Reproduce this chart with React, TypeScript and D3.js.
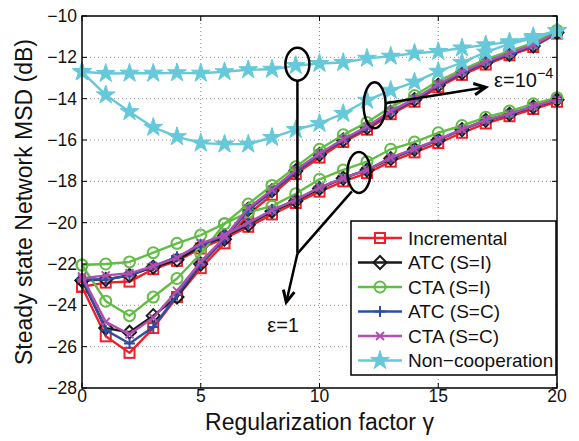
import * as d3 from 'd3';

// regularization factor values on the x axis
const gamma = [0, 1, 2, 3, 4, 5, 6, 7, 8, 9, 10, 11, 12, 13, 14, 15, 16, 17, 18, 19, 20];

// epsilon = 1e-4 curves (dip on the left, top group on the right)
const incSmall = [-23.1, -25.5, -26.3, -25.1, -23.6, -22.2, -21.0, -19.6, -18.65, -17.65, -16.85, -16.1, -15.5, -14.75, -14.15, -13.45, -12.85, -12.35, -11.9, -11.5, -10.85];
const atcISmall = [-22.8, -25.1, -25.3, -24.5, -23.6, -22.0, -20.8, -19.35, -18.45, -17.5, -16.7, -16.0, -15.4, -14.65, -14.05, -13.35, -12.75, -12.25, -11.85, -11.45, -10.8];
const ctaISmall = [-22.05, -23.8, -24.5, -23.6, -22.7, -21.5, -20.05, -19.1, -18.2, -17.3, -16.45, -15.75, -15.15, -14.4, -13.85, -13.15, -12.6, -12.1, -11.7, -11.3, -10.7];
const atcCSmall = [-22.7, -25.2, -25.85, -25.05, -23.5, -22.0, -20.8, -19.4, -18.5, -17.55, -16.7, -16.0, -15.4, -14.65, -14.05, -13.35, -12.75, -12.25, -11.85, -11.45, -10.8];
const ctaCSmall = [-22.6, -24.8, -25.4, -24.6, -23.3, -21.9, -20.7, -19.3, -18.4, -17.45, -16.65, -15.95, -15.35, -14.6, -14.0, -13.3, -12.7, -12.2, -11.8, -11.4, -10.8];
const ncSmall = [-12.7, -13.82, -14.63, -15.39, -15.84, -16.15, -16.2, -16.2, -15.88, -15.5, -15.2, -14.72, -14.08, -13.6, -13.2, -12.68, -12.25, -11.75, -11.35, -11.08, -10.72];

// epsilon = 1 curves
const incLarge = [-23.1, -22.9, -22.85, -22.25, -21.85, -21.25, -20.75, -20.2, -19.6, -19.05, -18.5, -18.0, -17.6, -17.05, -16.6, -16.15, -15.65, -15.2, -14.85, -14.5, -14.15];
const atcILarge = [-22.8, -22.75, -22.55, -22.15, -21.8, -21.15, -20.65, -20.1, -19.45, -18.95, -18.35, -17.85, -17.45, -16.9, -16.45, -16.0, -15.5, -15.05, -14.75, -14.4, -14.05];
const ctaILarge = [-22.05, -22.0, -21.9, -21.45, -21.0, -20.6, -20.05, -19.5, -19.2, -18.6, -17.9, -17.45, -17.05, -16.45, -16.1, -15.65, -15.3, -14.9, -14.6, -14.25, -13.95];
const atcCLarge = [-22.75, -22.75, -22.55, -22.1, -21.65, -21.1, -20.6, -20.05, -19.4, -18.9, -18.3, -17.85, -17.45, -16.88, -16.45, -16.0, -15.5, -15.05, -14.75, -14.4, -14.05];
const ctaCLarge = [-22.7, -22.55, -22.45, -22.1, -21.7, -21.0, -20.6, -20.0, -19.4, -18.9, -18.3, -17.85, -17.45, -16.85, -16.42, -15.97, -15.48, -15.03, -14.72, -14.37, -14.03];
const ncLarge = [-12.7, -12.78, -12.77, -12.77, -12.75, -12.77, -12.7, -12.6, -12.58, -12.4, -12.3, -12.25, -12.05, -11.95, -11.8, -11.72, -11.55, -11.4, -11.25, -11.0, -10.72];

const xTicks = [0, 5, 10, 15, 20];
const yTicks = [-28, -26, -24, -22, -20, -18, -16, -14, -12, -10];

const seriesNames = ['Incremental', 'ATC (S=I)', 'CTA (S=I)', 'ATC (S=C)', 'CTA (S=C)', 'Non\u2212cooperation'];
const seriesColors = ['#ee2028', '#1a1a1a', '#62bd45', '#2f4f9e', '#b04fb0', '#66c9da'];
const seriesMarkers = ['square', 'diamond', 'circle', 'plus', 'cross', 'star'];
const seriesSmall = [incSmall, atcISmall, ctaISmall, atcCSmall, ctaCSmall, ncSmall];
const seriesLarge = [incLarge, atcILarge, ctaILarge, atcCLarge, ctaCLarge, ncLarge];

// annotation ellipses (data coordinates)
const ellipseEps1Top = { x: 9.07, y: -12.33 };
const ellipseEpsSmall = { x: 12.32, y: -14.32 };
const ellipseEps1Low = { x: 11.66, y: -17.57 };

const W = 579;
const H = 441;
const margin = { top: 16, right: 22, bottom: 53, left: 82 };
const font = 'Liberation Sans, Arial, Helvetica, sans-serif';

function Marker({ type, cx, cy, color }: { type: string; cx: number; cy: number; color: string }) {
  const sw = 2;
  if (type === 'square') {
    return <rect x={cx - 5} y={cy - 5} width={10} height={10} fill="none" stroke={color} strokeWidth={sw} />;
  }
  if (type === 'diamond') {
    const r = 6.5;
    return <path d={`M${cx},${cy - r}L${cx + r},${cy}L${cx},${cy + r}L${cx - r},${cy}Z`} fill="none" stroke={color} strokeWidth={sw} />;
  }
  if (type === 'circle') {
    return <circle cx={cx} cy={cy} r={5.5} fill="none" stroke={color} strokeWidth={sw} />;
  }
  if (type === 'plus') {
    const r = 5.5;
    return <path d={`M${cx - r},${cy}L${cx + r},${cy}M${cx},${cy - r}L${cx},${cy + r}`} stroke={color} strokeWidth={sw} />;
  }
  if (type === 'cross') {
    const r = 4;
    return <path d={`M${cx - r},${cy - r}L${cx + r},${cy + r}M${cx - r},${cy + r}L${cx + r},${cy - r}`} stroke={color} strokeWidth={sw} />;
  }
  const star = d3.symbol(d3.symbolStar, 110)();
  return <path d={star ?? ''} transform={`translate(${cx},${cy})`} fill={color} stroke={color} strokeWidth={1} />;
}

function arrowHead(x1: number, y1: number, x2: number, y2: number) {
  const a = Math.atan2(y2 - y1, x2 - x1);
  const len = 13;
  const spread = 0.45;
  const p1 = [x2 - len * Math.cos(a - spread), y2 - len * Math.sin(a - spread)];
  const p2 = [x2 - len * Math.cos(a + spread), y2 - len * Math.sin(a + spread)];
  return `M${p1[0]},${p1[1]}L${x2},${y2}L${p2[0]},${p2[1]}`;
}

export default function App() {
  const x = d3.scaleLinear().domain([0, 20]).range([margin.left, W - margin.right]);
  const y = d3.scaleLinear().domain([-28, -10]).range([H - margin.bottom, margin.top]);
  const x0 = x(0), x1 = x(20), y0 = y(-28), y1 = y(-10);

  const line = d3.line<number>()
    .x((_, i) => x(gamma[i]))
    .y((d) => y(d));

  const fmt = d3.format('d');

  const curves: { values: number[]; k: number }[] = [];
  seriesSmall.forEach((vals, k) => {
    curves.push({ values: vals, k });
    curves.push({ values: seriesLarge[k], k });
  });

  // annotation geometry
  const e1 = { cx: x(ellipseEps1Top.x), cy: y(ellipseEps1Top.y), rx: 12, ry: 16.5 };
  const e2 = { cx: x(ellipseEpsSmall.x), cy: y(ellipseEpsSmall.y), rx: 11, ry: 23 };
  const e3 = { cx: x(ellipseEps1Low.x), cy: y(ellipseEps1Low.y), rx: 11.5, ry: 20.5 };
  const joint = { x: e1.cx, y: y(-21.5) };
  const tip1 = { x: x(8.6), y: y(-23.85) };
  const e3Foot = { x: e3.cx - 7, y: e3.cy + 19 };
  const e2Start = { x: e2.cx + 11, y: e2.cy - 2 };
  const tip2 = { x: x(17.0), y: y(-13.45) };

  const legend = { x: 351, y: 221, w: 205, h: 154, row: 24.5 };

  return (
    <svg width={W} height={H} style={{ position: 'absolute', left: 0, top: 0, background: '#fff' }} fontFamily={font}>
      {/* grid */}
      <g stroke="#8a8a8a" strokeWidth={1} strokeDasharray="1 3">
        {xTicks.slice(1, -1).map((t) => (
          <line key={'gx' + t} x1={x(t)} x2={x(t)} y1={y0} y2={y1} />
        ))}
        {yTicks.slice(1, -1).map((t) => (
          <line key={'gy' + t} x1={x0} x2={x1} y1={y(t)} y2={y(t)} />
        ))}
      </g>

      {/* data */}
      {curves.map((c, i) => (
        <g key={'c' + i}>
          <path d={line(c.values) ?? ''} fill="none" stroke={seriesColors[c.k]} strokeWidth={2.4} strokeLinejoin="round" />
          {c.values.map((v, j) => (
            <Marker key={j} type={seriesMarkers[c.k]} cx={x(gamma[j])} cy={y(v)} color={seriesColors[c.k]} />
          ))}
        </g>
      ))}

      {/* annotations */}
      <g fill="none" stroke="#000" strokeWidth={2.5}>
        <ellipse cx={e1.cx} cy={e1.cy} rx={e1.rx} ry={e1.ry} />
        <ellipse cx={e2.cx} cy={e2.cy} rx={e2.rx} ry={e2.ry} />
        <ellipse cx={e3.cx} cy={e3.cy} rx={e3.rx} ry={e3.ry} />
        <line x1={e1.cx} y1={e1.cy + e1.ry} x2={joint.x} y2={joint.y} />
        <line x1={joint.x} y1={joint.y} x2={e3Foot.x} y2={e3Foot.y} />
        <line x1={joint.x} y1={joint.y} x2={tip1.x} y2={tip1.y} />
        <path d={arrowHead(joint.x, joint.y, tip1.x, tip1.y)} strokeWidth={3} />
        <line x1={e2Start.x} y1={e2Start.y} x2={tip2.x} y2={tip2.y} />
        <path d={arrowHead(e2Start.x, e2Start.y, tip2.x, tip2.y)} strokeWidth={3} />
      </g>
      <text x={x(7.8)} y={y(-25.3)} fontSize={20} fill="#111">{'\u03b5=1'}</text>
      <text x={x(17.35)} y={y(-13.45)} fontSize={20} fill="#111">
        {'\u03b5=10'}
        <tspan dy={-9} fontSize={14.5}>{'\u22124'}</tspan>
      </text>

      {/* axes box and ticks */}
      <rect x={x0} y={y1} width={x1 - x0} height={y0 - y1} fill="none" stroke="#000" strokeWidth={1.5} />
      <g stroke="#000" strokeWidth={1}>
        {xTicks.map((t) => (
          <g key={'tx' + t}>
            <line x1={x(t)} x2={x(t)} y1={y0} y2={y0 - 5} />
            <line x1={x(t)} x2={x(t)} y1={y1} y2={y1 + 5} />
          </g>
        ))}
        {yTicks.map((t) => (
          <g key={'ty' + t}>
            <line x1={x0} x2={x0 + 5} y1={y(t)} y2={y(t)} />
            <line x1={x1} x2={x1 - 5} y1={y(t)} y2={y(t)} />
          </g>
        ))}
      </g>
      <g fontSize={17.5} fill="#111">
        {xTicks.map((t) => (
          <text key={'lx' + t} x={x(t)} y={y0 + 14} textAnchor="middle">{fmt(t)}</text>
        ))}
        {yTicks.map((t) => (
          <text key={'ly' + t} x={x0 - 5} y={y(t) + 6} textAnchor="end">{fmt(t)}</text>
        ))}
      </g>
      <text x={(x0 + x1) / 2} y={430} textAnchor="middle" fontSize={23} fill="#111">Regularization factor {'\u03b3'}</text>
      <text transform={`translate(32,${(y0 + y1) / 2}) rotate(-90)`} textAnchor="middle" fontSize={23} fill="#111">Steady state Network MSD (dB)</text>

      {/* legend */}
      <g>
        <rect x={legend.x} y={legend.y} width={legend.w} height={legend.h} fill="#fff" stroke="#000" strokeWidth={1.5} />
        {seriesNames.map((name, k) => {
          const ly = legend.y + 17 + k * legend.row;
          return (
            <g key={name}>
              <line x1={legend.x + 7} x2={legend.x + 51} y1={ly} y2={ly} stroke={seriesColors[k]} strokeWidth={2.4} />
              <Marker type={seriesMarkers[k]} cx={legend.x + 29} cy={ly} color={seriesColors[k]} />
              <text x={legend.x + 57} y={ly + 6.5} fontSize={19} fill="#111">{name}</text>
            </g>
          );
        })}
      </g>
    </svg>
  );
}
